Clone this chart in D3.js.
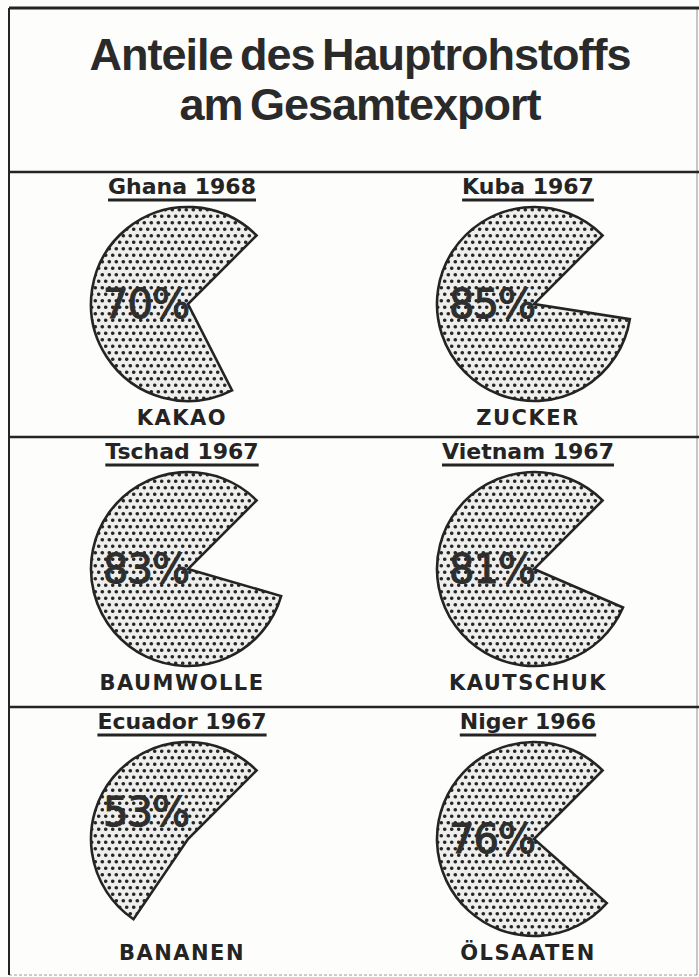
<!DOCTYPE html>
<html lang="de">
<head>
<meta charset="utf-8">
<title>Anteile des Hauptrohstoffs am Gesamtexport</title>
<script src="https://cdn.jsdelivr.net/npm/d3@7"></script>
<style>
  html, body { margin: 0; padding: 0; background: #fdfdfc; }
  svg { display: block; }
</style>
</head>
<body>
<div id="chart"></div>
<script>
// Chart data
const titleLines  = ["Anteile des Hauptrohstoffs", "am Gesamtexport"];
const countries   = ["Ghana", "Kuba", "Tschad", "Vietnam", "Ecuador", "Niger"];
const years       = [1968, 1967, 1967, 1967, 1967, 1966];
const commodities = ["KAKAO", "ZUCKER", "BAUMWOLLE", "KAUTSCHUK", "BANANEN", "ÖLSAATEN"];
const shares      = [70, 85, 83, 81, 53, 76];   // percent of total exports

// Layout
const W = 699, H = 977;
const frame = { left: 9, right: 697, top: 8, bottom: 975 };
const ink = "#242424";
const radius = 97;

const svg = d3.select("#chart").append("svg")
  .attr("width", W).attr("height", H)
  .attr("viewBox", `0 0 ${W} ${H}`);

svg.append("rect").attr("width", W).attr("height", H).attr("fill", "#fdfdfc");

// Halftone dot screen used for the pie fill
const defs = svg.append("defs");
const pat = defs.append("pattern")
  .attr("id", "dots")
  .attr("patternUnits", "userSpaceOnUse")
  .attr("width", 7).attr("height", 13);
pat.append("rect").attr("width", 7).attr("height", 13).attr("fill", "#eeeeec");
[[1.75, 3.25], [5.25, 9.75], [8.75, 9.75], [-1.75, 9.75]].forEach(([x, y]) =>
  pat.append("circle").attr("cx", x).attr("cy", y).attr("r", 1.8).attr("fill", "#262626"));

// Frame and row dividers
const rowTops = [172, 437, 707];
const gFrame = svg.append("g").attr("stroke", ink).attr("fill", "none");
gFrame.append("line")
  .attr("x1", frame.left).attr("x2", W).attr("y1", frame.top).attr("y2", frame.top)
  .attr("stroke-width", 3);
gFrame.append("line")
  .attr("x1", frame.left).attr("x2", frame.left).attr("y1", frame.top).attr("y2", frame.bottom)
  .attr("stroke-width", 2);
gFrame.append("line")
  .attr("x1", frame.right).attr("x2", frame.right).attr("y1", frame.top).attr("y2", frame.bottom)
  .attr("stroke-width", 1).attr("stroke-opacity", 0.5);
gFrame.append("line")
  .attr("x1", frame.left).attr("x2", W).attr("y1", frame.bottom).attr("y2", frame.bottom)
  .attr("stroke-width", 1.2).attr("stroke-opacity", 0.45).attr("stroke-dasharray", "3 2");
gFrame.selectAll("line.divider").data(rowTops).join("line")
  .attr("class", "divider")
  .attr("x1", frame.left).attr("x2", W)
  .attr("y1", d => d).attr("y2", d => d)
  .attr("stroke-width", 2.4);

// Title
svg.append("g")
  .selectAll("text").data(titleLines).join("text")
  .attr("x", 360)
  .attr("y", (d, i) => 70 + i * 50)
  .attr("text-anchor", "middle")
  .attr("font-family", "'Liberation Sans', Arial, sans-serif")
  .attr("font-weight", "bold")
  .attr("font-size", 45)
  .attr("letter-spacing", -1)
  .attr("word-spacing", -4)
  .attr("fill", "#2a2a2a")
  .text(d => d);

// Grid of panels: two columns, three rows
const colX = [182, 528];
const panels = countries.map((c, i) => ({
  country: c, year: years[i], commodity: commodities[i], share: shares[i],
  col: i % 2, row: Math.floor(i / 2)
}));

// Each pie starts its open wedge at 45° (north-east); the filled part is the share
const pie = d3.pie().sort(null).value(d => d)
  .startAngle(Math.PI / 4).endAngle(Math.PI / 4 + 2 * Math.PI);
const arc = d3.arc().innerRadius(0).outerRadius(radius);

const g = svg.selectAll("g.panel").data(panels).join("g")
  .attr("class", "panel")
  .attr("transform", d => `translate(${colX[d.col]},${rowTops[d.row] + 22})`);

// Country / year heading, underlined
const heads = g.append("text")
  .attr("x", 0).attr("y", 0)
  .attr("text-anchor", "middle")
  .attr("font-family", "'DejaVu Sans', sans-serif")
  .attr("font-weight", "bold")
  .attr("font-size", 22)
  .attr("fill", ink)
  .text(d => `${d.country} ${d.year}`);
heads.each(function () {
  const w = this.getComputedTextLength();
  d3.select(this.parentNode).append("line")
    .attr("x1", -w / 2).attr("x2", w / 2)
    .attr("y1", 6).attr("y2", 6)
    .attr("stroke", ink).attr("stroke-width", 3.2);
});

// Pie (share slice only; the remainder is left open)
const pies = g.append("g").attr("transform", "translate(6,110)");
pies.append("path")
  .attr("d", d => arc(pie([100 - d.share, d.share])[1]))
  .attr("fill", "url(#dots)")
  .attr("stroke", ink)
  .attr("stroke-width", 2.6)
  .attr("stroke-linejoin", "miter");

// Percentage inside the slice, ending at the pie centre
pies.append("text")
  .attr("x", 1)
  .attr("y", d => d.share < 60 ? -13 : 14)
  .attr("text-anchor", "end")
  .attr("font-family", "'DejaVu Sans', sans-serif")
  .attr("font-size", 40)
  .attr("letter-spacing", -1)
  .attr("fill", "#2e2e2e")
  .attr("stroke", "#2e2e2e").attr("stroke-width", 1.1)
  .text(d => `${d.share}%`);

// Commodity name below the pie
g.append("text")
  .attr("x", 0).attr("y", 231)
  .attr("text-anchor", "middle")
  .attr("font-family", "'DejaVu Sans', sans-serif")
  .attr("font-weight", "bold")
  .attr("font-size", 21)
  .attr("letter-spacing", 1.5)
  .attr("fill", ink)
  .text(d => d.commodity);
</script>
</body>
</html>
